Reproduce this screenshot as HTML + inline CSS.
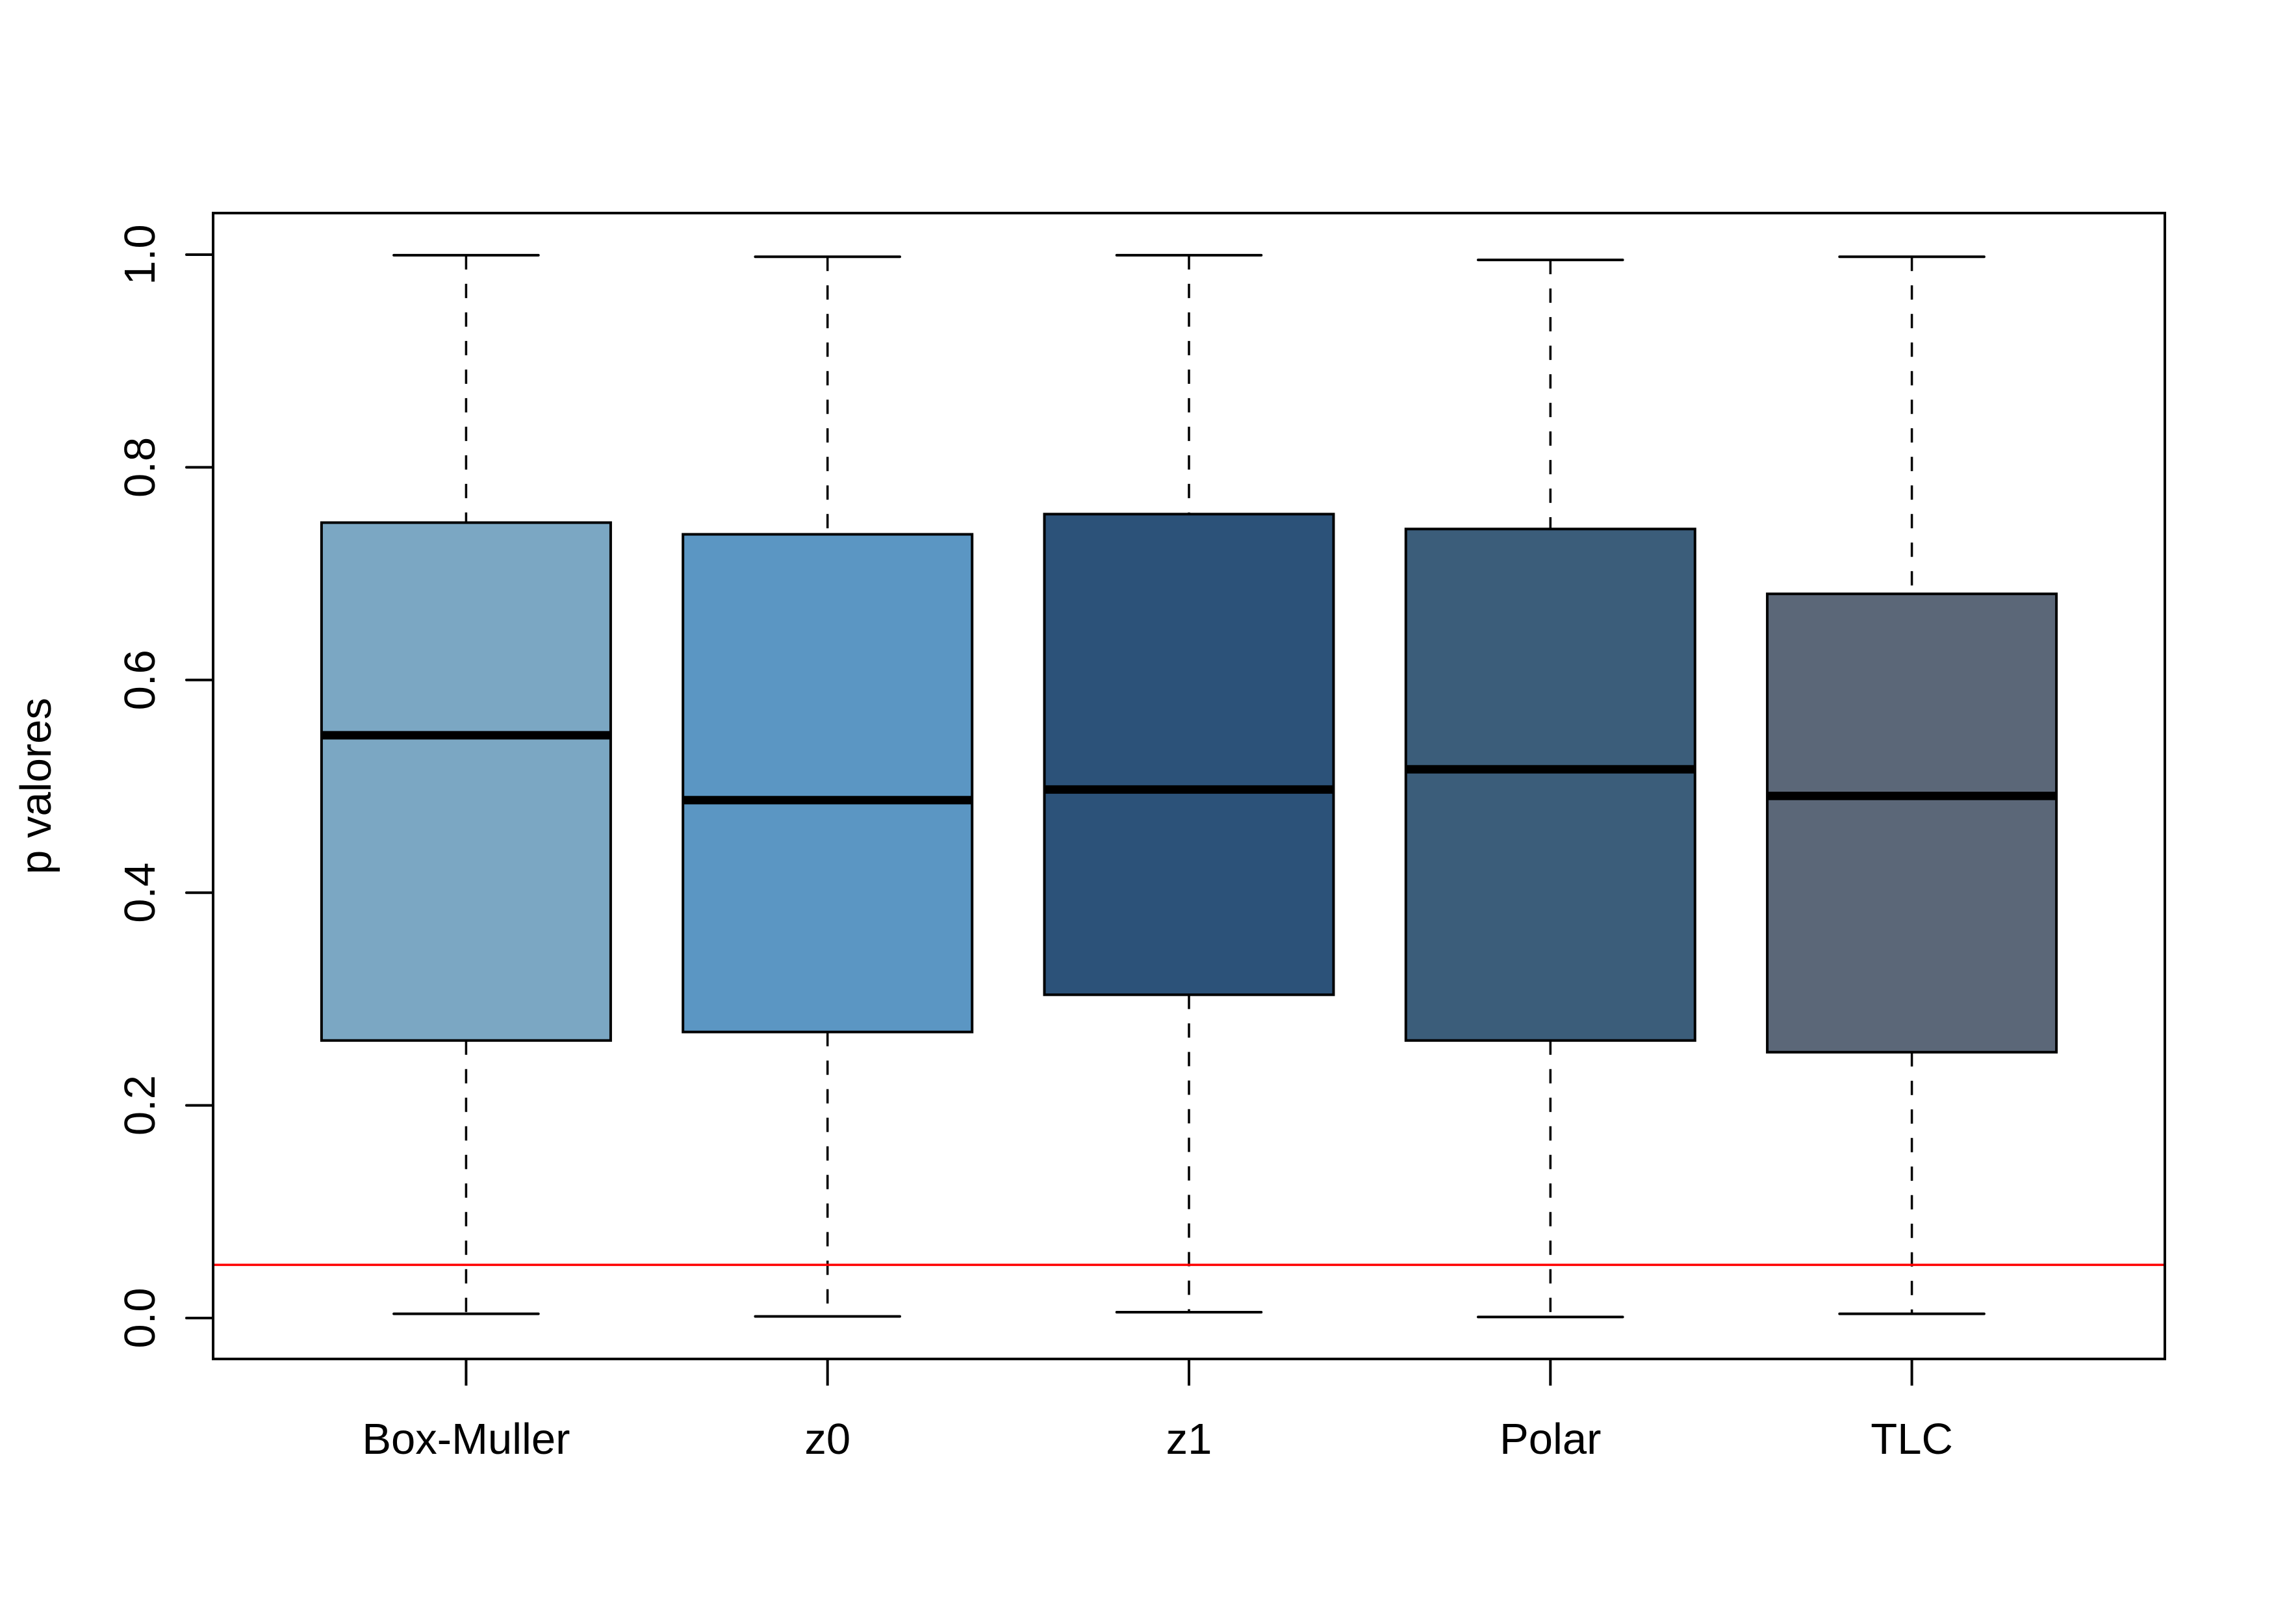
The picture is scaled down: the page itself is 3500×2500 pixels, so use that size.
<!DOCTYPE html>
<html><head><meta charset="utf-8"><style>
html,body{margin:0;padding:0;background:#fff}
svg{display:block}
text{font-family:"Liberation Sans",Arial,sans-serif;fill:#000}
</style></head><body>
<svg id="chart" width="3500" height="2500" viewBox="0 0 3500 2500" xmlns="http://www.w3.org/2000/svg">
<rect x="0" y="0" width="3500" height="2500" fill="#fff"/>
<g id="marks"></g>
<g id="axes"></g>
</svg>
<script>
const categories = ["Box-Muller","z0","z1","Polar","TLC"];
const whiskerLow = [0.004,0.0015,0.0055,0.001,0.004];
const q1 = [0.261,0.269,0.304,0.261,0.250];
const medians = [0.548,0.487,0.497,0.516,0.491];
const q3 = [0.748,0.737,0.756,0.742,0.681];
const whiskerHigh = [0.9995,0.998,0.9995,0.995,0.998];
const fills = ["#7BA7C3","#5B96C3","#2C5279","#3B5D7A","#5B6778"];
const yTicks = [0,0.2,0.4,0.6,0.8,1.0];
const yTickLabels = ["0.0","0.2","0.4","0.6","0.8","1.0"];
const refLine = 0.05;

const NS="http://www.w3.org/2000/svg";
const L=328,R=3332,T=328,B=2092;
function ys(v){return 2029 - v*1637;}
function xs(i){return L + (R-L)/5.4*(0.7+i);}
const unit=(R-L)/5.4;
function mk(tag,attrs,parent){const e=document.createElementNS(NS,tag);for(const k in attrs)e.setAttribute(k,attrs[k]);parent.appendChild(e);return e;}
const marks=document.getElementById('marks');
const axes=document.getElementById('axes');

categories.forEach((c,i)=>{
  const cx=xs(i), hw=0.4*unit, cw=0.2*unit;
  let e;
  e=mk('line',{x1:cx,x2:cx,y1:ys(whiskerHigh[i]),y2:ys(q3[i]),stroke:'#000','stroke-width':3.5,'stroke-dasharray':'22 22'},marks);
  
  
  e=mk('line',{x1:cx,x2:cx,y1:ys(q1[i]),y2:ys(whiskerLow[i]),stroke:'#000','stroke-width':3.5,'stroke-dasharray':'22 22'},marks);
  
  
  e=mk('line',{x1:cx-cw,x2:cx+cw,y1:ys(whiskerHigh[i]),y2:ys(whiskerHigh[i]),stroke:'#000','stroke-width':4,'stroke-linecap':'round'},marks);
  
  
  e=mk('line',{x1:cx-cw,x2:cx+cw,y1:ys(whiskerLow[i]),y2:ys(whiskerLow[i]),stroke:'#000','stroke-width':4,'stroke-linecap':'round'},marks);
  
  
  e=mk('rect',{x:cx-hw,y:ys(q3[i]),width:2*hw,height:ys(q1[i])-ys(q3[i]),fill:fills[i],stroke:'#000','stroke-width':4},marks);
  
  
  e=mk('line',{x1:cx-hw,x2:cx+hw,y1:ys(medians[i]),y2:ys(medians[i]),stroke:'#000','stroke-width':13},marks);
  
  
  e=mk('line',{x1:cx,x2:cx,y1:B,y2:B+41,stroke:'#000','stroke-width':4},axes);
  
  
  e=mk('text',{x:cx,y:2238,'font-size':67,'text-anchor':'middle'},axes);
  e.textContent=c;
  
  
});

let rl=mk('line',{x1:L,x2:R,y1:ys(refLine),y2:ys(refLine),stroke:'#ff0000','stroke-width':3.5},marks);



yTicks.forEach((v,i)=>{
  let e=mk('line',{x1:L-41,x2:L,y1:ys(v),y2:ys(v),stroke:'#000','stroke-width':4,'stroke-linecap':'round'},axes);
  
  
  e=mk('text',{x:0,y:0,'font-size':67,'text-anchor':'middle',transform:'translate(238,'+ys(v)+') rotate(-90)'},axes);
  e.textContent=yTickLabels[i];
  
  
});

let fr=mk('rect',{x:L,y:T,width:R-L,height:B-T,fill:'none',stroke:'#000','stroke-width':4},axes);


let yl=mk('text',{x:0,y:0,'font-size':67,'text-anchor':'middle',transform:'translate(78,1210) rotate(-90)'},axes);
yl.textContent='p valores';


</script>
</body></html>
